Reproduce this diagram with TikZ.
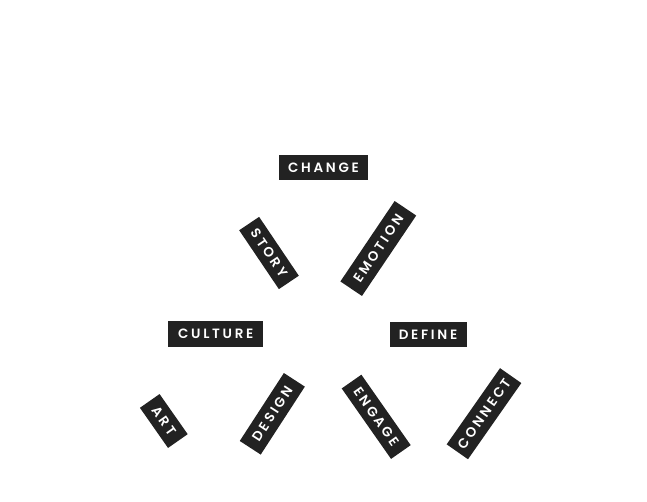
\documentclass[tikz,border=0pt]{standalone}
\usepackage{fontspec}
\setmainfont{Poppins}[LetterSpace=20,UprightFont=*-SemiBold,BoldFont=*-Bold]
\definecolor{tagblack}{HTML}{222222}
\begin{document}
\begin{tikzpicture}[x=1pt,y=1pt,
  tag/.style={fill=tagblack,text=white,inner sep=0pt,minimum height=25pt,font=\fontsize{13.5}{13.5}\selectfont}]
\useasboundingbox (0,0) rectangle (647,-502);
\node[tag,minimum width=89pt] (change) at (323.5,-168) {CHANGE};
\node[tag,minimum width=71pt,minimum height=24pt,rotate=-56] (story) at (269,-253) {STORY};
\node[tag,minimum width=97pt,minimum height=26pt,rotate=56] (emotion) at (378.3,-248.5) {EMOTION};
\node[tag,minimum width=95pt,minimum height=26pt] (culture) at (215.7,-334) {CULTURE};
\node[tag,minimum width=77pt] (define) at (428,-334.5) {DEFINE};
\node[tag,minimum width=49pt,minimum height=24pt,rotate=-55] (art) at (163.8,-421) {ART};
\node[tag,minimum width=81pt,rotate=57] (design) at (272.3,-413.8) {DESIGN};
\node[tag,minimum width=86pt,minimum height=24pt,rotate=-55] (engage) at (376.2,-416.8) {ENGAGE};
\node[tag,minimum width=93pt,minimum height=26pt,rotate=55] (connect) at (484,-413.7) {CONNECT};
\end{tikzpicture}
\end{document}
